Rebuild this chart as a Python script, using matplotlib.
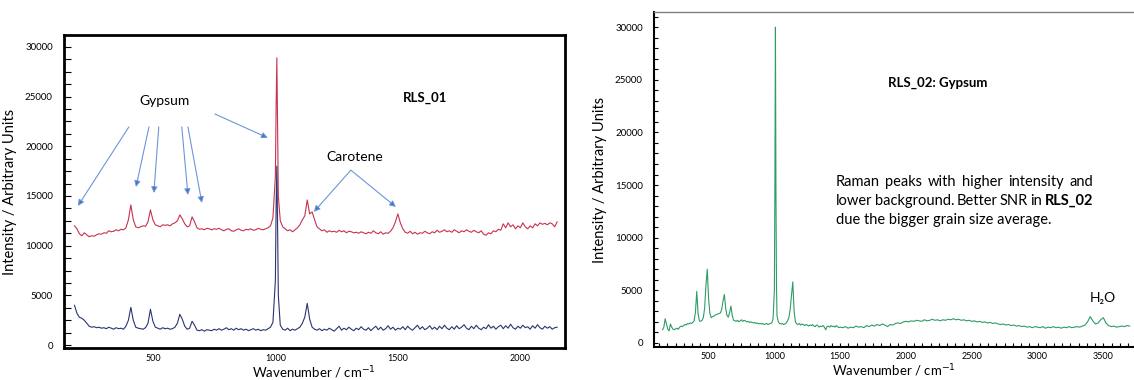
import numpy as np
import matplotlib
matplotlib.use('Agg')
import matplotlib.pyplot as plt
from matplotlib.ticker import MultipleLocator, AutoMinorLocator

plt.rcParams['font.family'] = ['Lato', 'DejaVu Sans']

# ---- RLS_01 (left panel) ----
wn_left = np.concatenate([np.arange(180, 1000, 10),
                          [1000, 1003, 1006, 1009, 1012],
                          np.arange(1020, 2160, 10)])

red = [12000, 11700, 11200, 11000, 11300, 11100, 10900, 11000, 10950, 11100,   # 180-270
       11200, 11150, 11300, 11250, 11500, 11400, 11450, 11600, 11500, 11650,   # 280-370
       11600, 11800, 12600, 14100, 12600, 11900, 11800, 11900, 12000, 11950,   # 380-470
       12400, 13600, 12600, 12100, 12000, 11900, 12100, 12050, 12100, 12000,   # 480-570
       12200, 12300, 12500, 13100, 12700, 12200, 11900, 12000, 12900, 12400,   # 580-670
       11800, 11650, 11700, 11600, 11750, 11700, 11600, 11700, 11650, 11750,   # 680-770
       11600, 11500, 11650, 11700, 11500, 11450, 11600, 11700, 11550, 11500,   # 780-870
       11650, 11600, 11700, 11550, 11600, 11750, 11650, 11600, 11700, 11800,   # 880-970
       12000, 12800,                                                           # 980-990
       17000, 24000, 28900, 22000, 15000,                                      # 1000-1012
       12500, 11900, 11700, 11500, 11600, 11400, 11600, 11800, 12100, 12600,   # 1020-1110
       13000, 14600, 13200, 13400, 12600, 11900, 11700, 11500, 11600, 11350,   # 1120-1210
       11500, 11400, 11450, 11350, 11550, 11400, 11500, 11300, 11450, 11400,   # 1220-1310
       11300, 11350, 11250, 11400, 11300, 11200, 11350, 11250, 11500, 11300,   # 1320-1410
       11200, 11400, 11150, 11300, 11250, 11450, 11800, 12400, 13200, 12300,   # 1420-1510
       11700, 11350, 11250, 11450, 11200, 11350, 11150, 11300, 11250, 11450,   # 1520-1610
       11300, 11200, 11400, 11300, 11550, 11350, 11450, 11600, 11400, 11500,   # 1620-1710
       11350, 11600, 11450, 11300, 11500, 11400, 11600, 11450, 11350, 11550,   # 1720-1810
       11400, 11300, 11500, 11150, 11050, 11300, 11200, 11500, 11400, 11650,   # 1820-1910
       11550, 12200, 11800, 12300, 11900, 12100, 11700, 12000, 11800, 12300,   # 1920-2010
       11900, 11700, 12000, 11800, 12200, 12000, 12300, 12150, 12250, 12100,   # 2020-2110
       12300, 12200, 11900, 12400]                                             # 2120-2150

blue = [4000, 3200, 2800, 2700, 2500, 2200, 1900, 1800, 1850, 1750,            # 180-270
        1800, 1700, 1750, 1650, 1800, 1700, 1600, 1750, 1650, 1700,            # 280-370
        1600, 1900, 2500, 3800, 2500, 1800, 1700, 1650, 1600, 1750,            # 380-470
        2200, 3600, 2400, 1800, 1700, 1600, 1750, 1650, 1700, 1600,            # 480-570
        1650, 1800, 2200, 3100, 2600, 1900, 1600, 1700, 2400, 2000,            # 580-670
        1500, 1450, 1550, 1400, 1550, 1500, 1450, 1600, 1500, 1650,            # 680-770
        1500, 1600, 1750, 1550, 1650, 1500, 1700, 1550, 1650, 1500,            # 780-870
        1600, 1450, 1550, 1650, 1500, 1600, 1450, 1550, 1500, 1650,            # 880-970
        1800, 2300,                                                            # 980-990
        6500, 14000, 18000, 12000, 5000,                                       # 1000-1012
        2000, 1600, 1500, 1700, 1450, 1600, 1500, 1650, 1800, 2200,            # 1020-1110
        2800, 4200, 2600, 1800, 1600, 1500, 1650, 1450, 1600, 1500,            # 1120-1210
        1700, 1550, 1400, 1650, 1900, 1500, 1700, 1550, 1800, 1600,            # 1220-1310
        1450, 1700, 1550, 1850, 1600, 1500, 1750, 1450, 1700, 1900,            # 1320-1410
        1550, 1800, 1500, 1650, 1950, 1600, 1800, 1500, 1700, 1600,            # 1420-1510
        1850, 1550, 1900, 1650, 1500, 1750, 2000, 1600, 1850, 1550,            # 1520-1610
        1700, 1950, 1600, 1800, 1550, 1900, 1650, 2000, 1700, 1550,            # 1620-1710
        1850, 1600, 1950, 1650, 1800, 2050, 1700, 1550, 1900, 1650,            # 1720-1810
        2000, 1700, 1550, 1800, 1650, 2050, 1700, 1900, 1600, 1850,            # 1820-1910
        2000, 1650, 1950, 1700, 2100, 1750, 1600, 1900, 1700, 2000,            # 1920-2010
        1750, 1850, 1600, 1950, 1700, 2050, 1750, 1600, 1900, 1700,            # 2020-2110
        1850, 1600, 1750, 1800]                                                # 2120-2150

# ---- RLS_02 (right panel) ----
wn_right = np.concatenate([np.arange(150, 1000, 10),
                           [1000, 1004, 1008, 1012, 1016],
                           np.arange(1020, 1500, 10),
                           np.arange(1500, 3710, 20)])

green = [1250, 1500, 2300, 1800, 1300, 1150, 1800, 1500, 1300, 1250,           # 150-240
         1350, 1400, 1300, 1500, 1600, 1550, 1650, 1750, 1700, 1850,           # 250-340
         1800, 1900, 1850, 1950, 2100, 2900, 4900, 2800, 2100, 2050,           # 350-440
         2150, 2400, 3300, 5500, 7000, 4200, 2800, 2400, 2500, 2550,           # 450-540
         2650, 2700, 2750, 2800, 2850, 3200, 4000, 4600, 3300, 2600,           # 550-640
         2450, 2900, 3500, 2600, 2150, 2100, 2050, 2150, 2000, 2100,           # 650-740
         2200, 2050, 2150, 2100, 2000, 2050, 1950, 2000, 1950, 1900,           # 750-840
         1950, 1850, 1900, 1800, 1850, 1800, 1850, 1750, 1800, 1850,           # 850-940
         1750, 1800, 1850, 1900, 2300,                                         # 950-990
         5000, 15000, 30000, 14000, 5500,                                      # 1000-1016
         2600, 2000, 1850, 1800, 1850, 1750, 1800, 1900, 2100, 2400,           # 1020-1110
         3200, 4500, 5800, 3000, 2000, 1800, 1750, 1850, 1700, 1800,           # 1120-1210
         1750, 1650, 1750, 1700, 1600, 1700, 1650, 1750, 1600, 1550,           # 1220-1310
         1700, 1650, 1500, 1600, 1550, 1650, 1500, 1250, 1550, 1600,           # 1320-1410
         1500, 1650, 1550, 1600, 1500, 1650, 1550, 1450,                       # 1420-1490
         1500, 1450, 1550, 1400, 1500, 1450, 1600, 1500, 1550, 1450,           # 1500-1680
         1650, 1550, 1700, 1600, 1750, 1650, 1800, 1700, 1550, 1750,           # 1700-1880
         1700, 1850, 1900, 1850, 2000, 2050, 2000, 2100, 2050, 2150,           # 1900-2080
         2100, 2050, 2200, 2100, 2150, 2250, 2150, 2200, 2100, 2200,           # 2100-2280
         2150, 2250, 2200, 2300, 2200, 2250, 2150, 2200, 2100, 2150,           # 2300-2480
         2050, 2100, 2000, 2050, 1950, 2000, 1900, 1950, 1850, 1900,           # 2500-2680
         1800, 1750, 1800, 1700, 1750, 1650, 1700, 1600, 1650, 1550,           # 2700-2880
         1600, 1500, 1550, 1450, 1550, 1500, 1450, 1550, 1400, 1500,           # 2900-3080
         1450, 1550, 1450, 1500, 1400, 1500, 1450, 1550, 1450, 1500,           # 3100-3280
         1550, 1500, 1600, 1700, 2000, 2500, 2100, 1800, 1900, 2200,           # 3300-3480
         2400, 1900, 1650, 1550, 1600, 1500, 1550, 1600, 1550, 1650,           # 3500-3680
         1600]                                                                 # 3700

gypsum_label = 'Gypsum'
gypsum_arrows = [((402, 21950), (194, 14000)),
                 ((484, 21950), (431, 15900)),
                 ((524, 21950), (504, 15300)),
                 ((618, 21950), (643, 15100)),
                 ((643, 21950), (700, 14300)),
                 ((753, 23250), (969, 20850))]
carotene_arrows = [((1308, 17600), (1157, 13400)),
                   ((1308, 17600), (1492, 13900))]

fig = plt.figure(figsize=(11.34, 3.8), dpi=100)

# left panel
ax1 = fig.add_axes([0.0564, 0.084, 0.4418, 0.824])
ax1.plot(wn_left, red, color='#c8324e', lw=0.8)
ax1.plot(wn_left, blue, color='#2b3570', lw=0.8)
ax1.set_xlim(137, 2182)
ax1.set_ylim(-300, 31200)
for s in ax1.spines.values():
    s.set_linewidth(2.0)
    s.set_color('black')
ax1.xaxis.set_major_locator(MultipleLocator(500))
ax1.yaxis.set_major_locator(MultipleLocator(5000))
ax1.yaxis.set_minor_locator(MultipleLocator(1250))
ax1.tick_params(axis='x', length=0, labelsize=6.5, pad=4)
ax1.tick_params(axis='y', which='both', direction='in', length=5, width=0.8,
                labelsize=7, pad=8)
ax1.set_ylabel('Intensity / Arbitrary Units', fontsize=10.5, labelpad=6)
ax1.set_xlabel('Wavenumber / cm$^{-1}$', fontsize=9.5, labelpad=1)

ax1.text(549, 24550, gypsum_label, fontsize=10, ha='center', va='center')
ax1.text(1610, 24850, 'RLS_01', fontsize=9.5, fontweight='bold', ha='center', va='center')
ax1.text(1325, 18900, 'Carotene', fontsize=10, ha='center', va='center')
arrow_style = dict(arrowstyle='-|>', color='#8aaee0', lw=0.8,
                   mutation_scale=9, shrinkA=0, shrinkB=0)
for start, end in gypsum_arrows + carotene_arrows:
    a = ax1.annotate('', xy=end, xytext=start, arrowprops=arrow_style)
    a.arrow_patch.set_facecolor('#3f6fc8')
    a.arrow_patch.set_edgecolor('#6f95d8')

# right panel
ax2 = fig.add_axes([0.5767, 0.087, 0.4233, 0.881])
ax2.plot(wn_right, green, color='#2e9c66', lw=0.8)
ax2.set_xlim(85, 3733)
ax2.set_ylim(-380, 31425)
ax2.spines['right'].set_visible(False)
ax2.spines['top'].set_color('#808080')
ax2.spines['top'].set_linewidth(1.0)
ax2.spines['left'].set_linewidth(1.5)
ax2.spines['bottom'].set_linewidth(1.5)
ax2.xaxis.set_major_locator(MultipleLocator(500))
ax2.xaxis.set_minor_locator(AutoMinorLocator(8))
ax2.yaxis.set_major_locator(MultipleLocator(5000))
ax2.yaxis.set_minor_locator(MultipleLocator(1000))
ax2.tick_params(axis='x', which='both', direction='in', length=3, width=0.8,
                labelsize=6.5, pad=4)
ax2.tick_params(axis='y', which='both', direction='in', length=3, width=0.8,
                labelsize=7, pad=8)
ax2.set_ylabel('Intensity / Arbitrary Units', fontsize=10.5, labelpad=6)
ax2.set_xlabel('Wavenumber / cm$^{-1}$', fontsize=9.5, labelpad=1)

ax2.text(1863, 24700, 'RLS_02: Gypsum', fontsize=9.5, fontweight='bold',
         ha='left', va='center')
ax2.text(3398, 4250, 'H₂O', fontsize=10, ha='left', va='center')

# justified paragraph
para = [[('Raman', 'normal'), ('peaks', 'normal'), ('with', 'normal'),
         ('higher', 'normal'), ('intensity', 'normal'), ('and', 'normal')],
        [('lower', 'normal'), ('background.', 'normal'), ('Better', 'normal'),
         ('SNR', 'normal'), ('in', 'normal'), ('RLS_02', 'bold')],
        [('due the bigger grain size average.', 'normal')]]
line_y = [15300, 13480, 11680]
x_left, x_right = 1468, 3421
renderer = fig.canvas.get_renderer()
inv = ax2.transData.inverted()
for i, (words, y) in enumerate(zip(para, line_y)):
    texts = [ax2.text(x_left, y, w, fontsize=10.5, fontweight=wt, ha='left', va='center')
             for w, wt in words]
    if len(texts) == 1 or i == len(para) - 1:
        continue
    widths = []
    for t in texts:
        bb = t.get_window_extent(renderer)
        x0 = inv.transform((bb.x0, bb.y0))[0]
        x1 = inv.transform((bb.x1, bb.y0))[0]
        widths.append(x1 - x0)
    gap = (x_right - x_left - sum(widths)) / (len(texts) - 1)
    pos = x_left
    for t, w in zip(texts, widths):
        t.set_x(pos)
        pos += w + gap

fig.savefig('out.png', dpi=100)
